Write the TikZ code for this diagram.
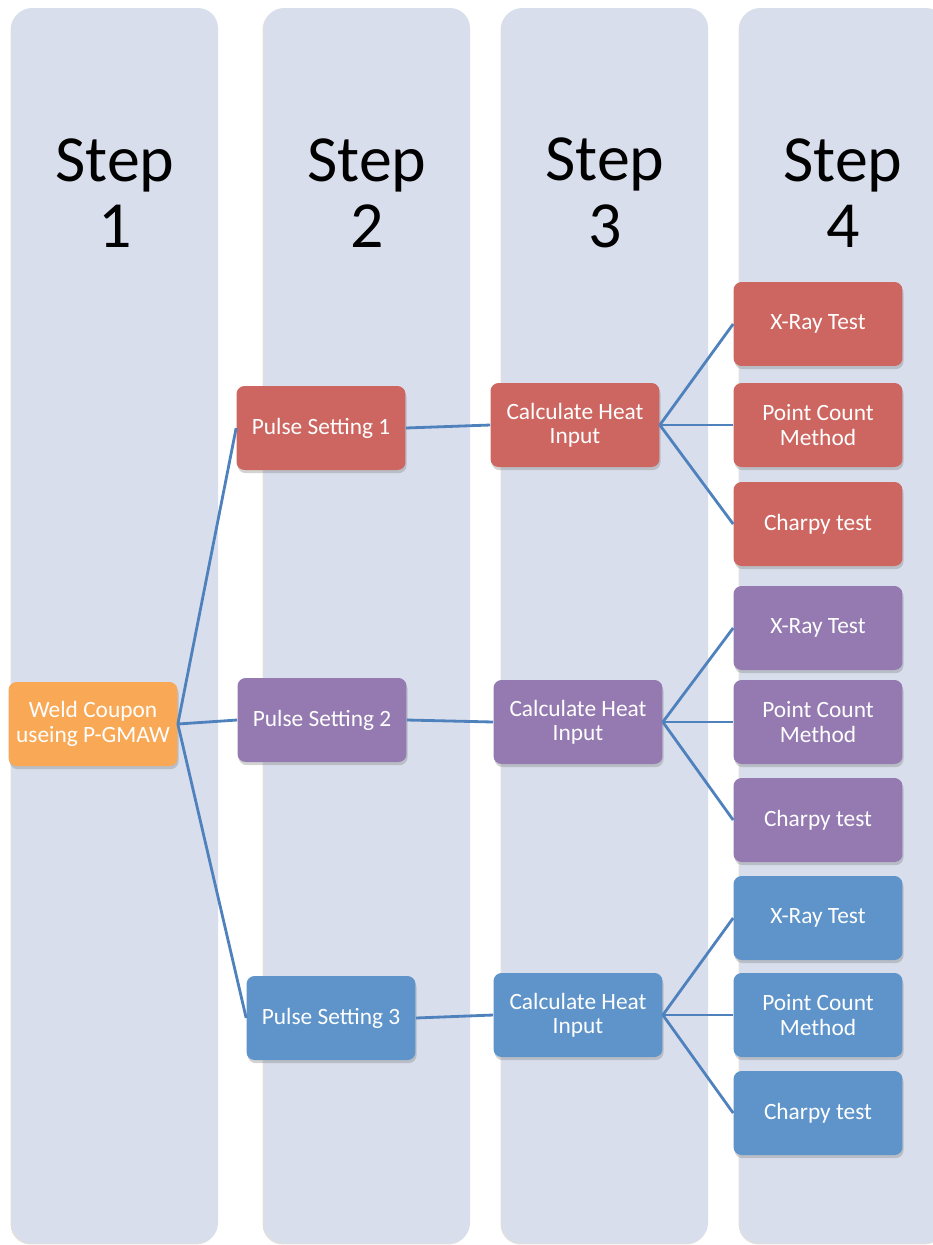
\documentclass[tikz,border=0pt]{standalone}
\usepackage{fontspec}
\setmainfont{Carlito}
\usetikzlibrary{positioning,shadows}

\definecolor{colbg}{RGB}{217,222,236}
\definecolor{linkblue}{RGB}{79,129,189}
\definecolor{weldorange}{RGB}{249,168,86}
\definecolor{setred}{RGB}{205,102,96}
\definecolor{setpurple}{RGB}{148,122,176}
\definecolor{setblue}{RGB}{94,148,202}

\begin{document}
\begin{tikzpicture}[x=0.02cm, y=-0.02cm,
    column/.style={fill=colbg, rounded corners=0.4cm,
      drop shadow={opacity=0.25, shadow xshift=-0.8pt, shadow yshift=-0.8pt}},
    steplabel/.style={align=center, font=\fontsize{37.5}{38}\selectfont},
    box/.style={rounded corners=0.16cm, minimum width=3.38cm, minimum height=1.68cm,
      text=white, align=center, font=\fontsize{13.3}{13.8}\selectfont,
      drop shadow={opacity=0.35, shadow xshift=0.6pt, shadow yshift=-1.8pt}},
    link/.style={draw=linkblue, line width=1.6pt}]

  \useasboundingbox (0,0) rectangle (933,1245);
  \clip (0,0) rectangle (933,1245);

  % columns and step headings
  \foreach \i/\xa in {1/12, 2/264, 3/502, 4/740} {
    \path[column] (\xa,8) rectangle (\xa+206,1243);
    \node[steplabel] (step\i) at (\xa+103,193) {Step\\\i};
  }

  % step 1 and step 2
  \node[box, fill=weldorange] (weld) at (93,724) {Weld Coupon\\useing P-GMAW};
  \node[box, fill=setred] (pulse1) at (321,428) {Pulse Setting 1};
  \node[box, fill=setpurple] (pulse2) at (322,720) {Pulse Setting 2};
  \node[box, fill=setblue] (pulse3) at (331,1018) {Pulse Setting 3};

  % step 3
  \node[box, fill=setred] (calc1) at (575,425) {Calculate Heat\\Input};
  \node[box, fill=setpurple] (calc2) at (578,722) {Calculate Heat\\Input};
  \node[box, fill=setblue] (calc3) at (578,1015) {Calculate Heat\\Input};

  \foreach \k in {1,2,3} {
    \draw[link] (weld.east) -- (pulse\k.west);
    \draw[link] (pulse\k.east) -- (calc\k.west);
  }

  % step 4
  \foreach \k/\clr/\ya/\yb/\yc in {1/setred/324/425/524,
      2/setpurple/628/722/820, 3/setblue/918/1015/1113} {
    \node[box, fill=\clr] (xray\k) at (818,\ya) {X-Ray Test};
    \node[box, fill=\clr] (point\k) at (818,\yb) {Point Count\\Method};
    \node[box, fill=\clr] (charpy\k) at (818,\yc) {Charpy test};
    \draw[link] (calc\k.east) -- (xray\k.west);
    \draw[link] (calc\k.east) -- (point\k.west);
    \draw[link] (calc\k.east) -- (charpy\k.west);
  }
\end{tikzpicture}
\end{document}
